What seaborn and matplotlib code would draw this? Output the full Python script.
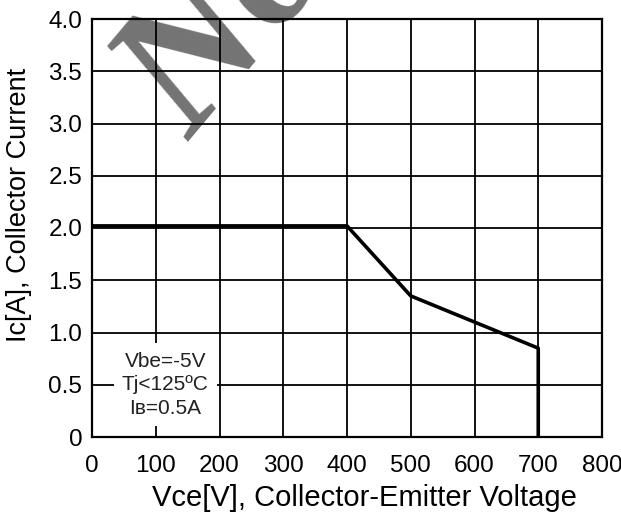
import matplotlib
matplotlib.use("Agg")
import matplotlib.pyplot as plt
import seaborn as sns
import pandas as pd

# Data
vce = [0, 400, 500, 700, 700]
ic = [2.02, 2.02, 1.35, 0.85, 0.0]
x_ticks = [0, 100, 200, 300, 400, 500, 600, 700, 800]
y_ticks = [0, 0.5, 1.0, 1.5, 2.0, 2.5, 3.0, 3.5, 4.0]
y_tick_labels = ["0", "0.5", "1.0", "1.5", "2.0", "2.5", "3.0", "3.5", "4.0"]
conditions = ["Vbe=-5V", "Tj<125ºC", "Iʙ=0.5A"]

sns.set_theme(style="white")
plt.rcParams['font.family'] = ['Liberation Sans', 'DejaVu Sans']

df = pd.DataFrame({"Vce": vce, "Ic": ic})

fig = plt.figure(figsize=(6.21, 5.17), dpi=100)
ax = fig.add_axes([92/621, 80/517, 510/621, 418/517])

for xv in x_ticks:
    ax.axvline(xv, color="black", lw=1.3, zorder=1)
for yv in y_ticks:
    ax.axhline(yv, color="black", lw=1.3, zorder=1)

sns.lineplot(data=df, x="Vce", y="Ic", sort=False, estimator=None,
             color="black", lw=2.6, ax=ax, zorder=3)

ax.set_xlim(0, 800)
ax.set_ylim(0, 4.0)
ax.set_xticks(x_ticks)
ax.set_xticklabels([str(v) for v in x_ticks])
ax.set_yticks(y_ticks)
ax.set_yticklabels(y_tick_labels)
ax.tick_params(axis="both", length=0, labelsize=17.5, colors="black")
ax.tick_params(axis="x", pad=13)
ax.tick_params(axis="y", pad=7)
for s in ax.spines.values():
    s.set_color("black")
    s.set_linewidth(1.6)
    s.set_zorder(4)

ax.set_xlabel("Vce[V], Collector-Emitter Voltage", fontsize=21, color="black",
              va="baseline")
ax.set_ylabel("Ic[A], Collector Current", fontsize=19.5, color="black")
ax.xaxis.set_label_coords(0.535, -0.165)
ax.yaxis.set_label_coords(-0.118, 0.555)

ax.text(115, 0.5, "\n".join(conditions), ha="center", va="center",
        fontsize=15, linespacing=1.3, color="#222222", zorder=5,
        bbox=dict(boxstyle="square,pad=0.4", facecolor="white", edgecolor="none"))

# watermark
fig.text(190/621, 1 - 142/517, "No", fontsize=135, family="Liberation Serif",
         style="italic", weight="bold", color="black", alpha=0.55, rotation=50,
         rotation_mode="anchor", ha="left", va="baseline", zorder=10)

fig.savefig("out.png", dpi=100)
